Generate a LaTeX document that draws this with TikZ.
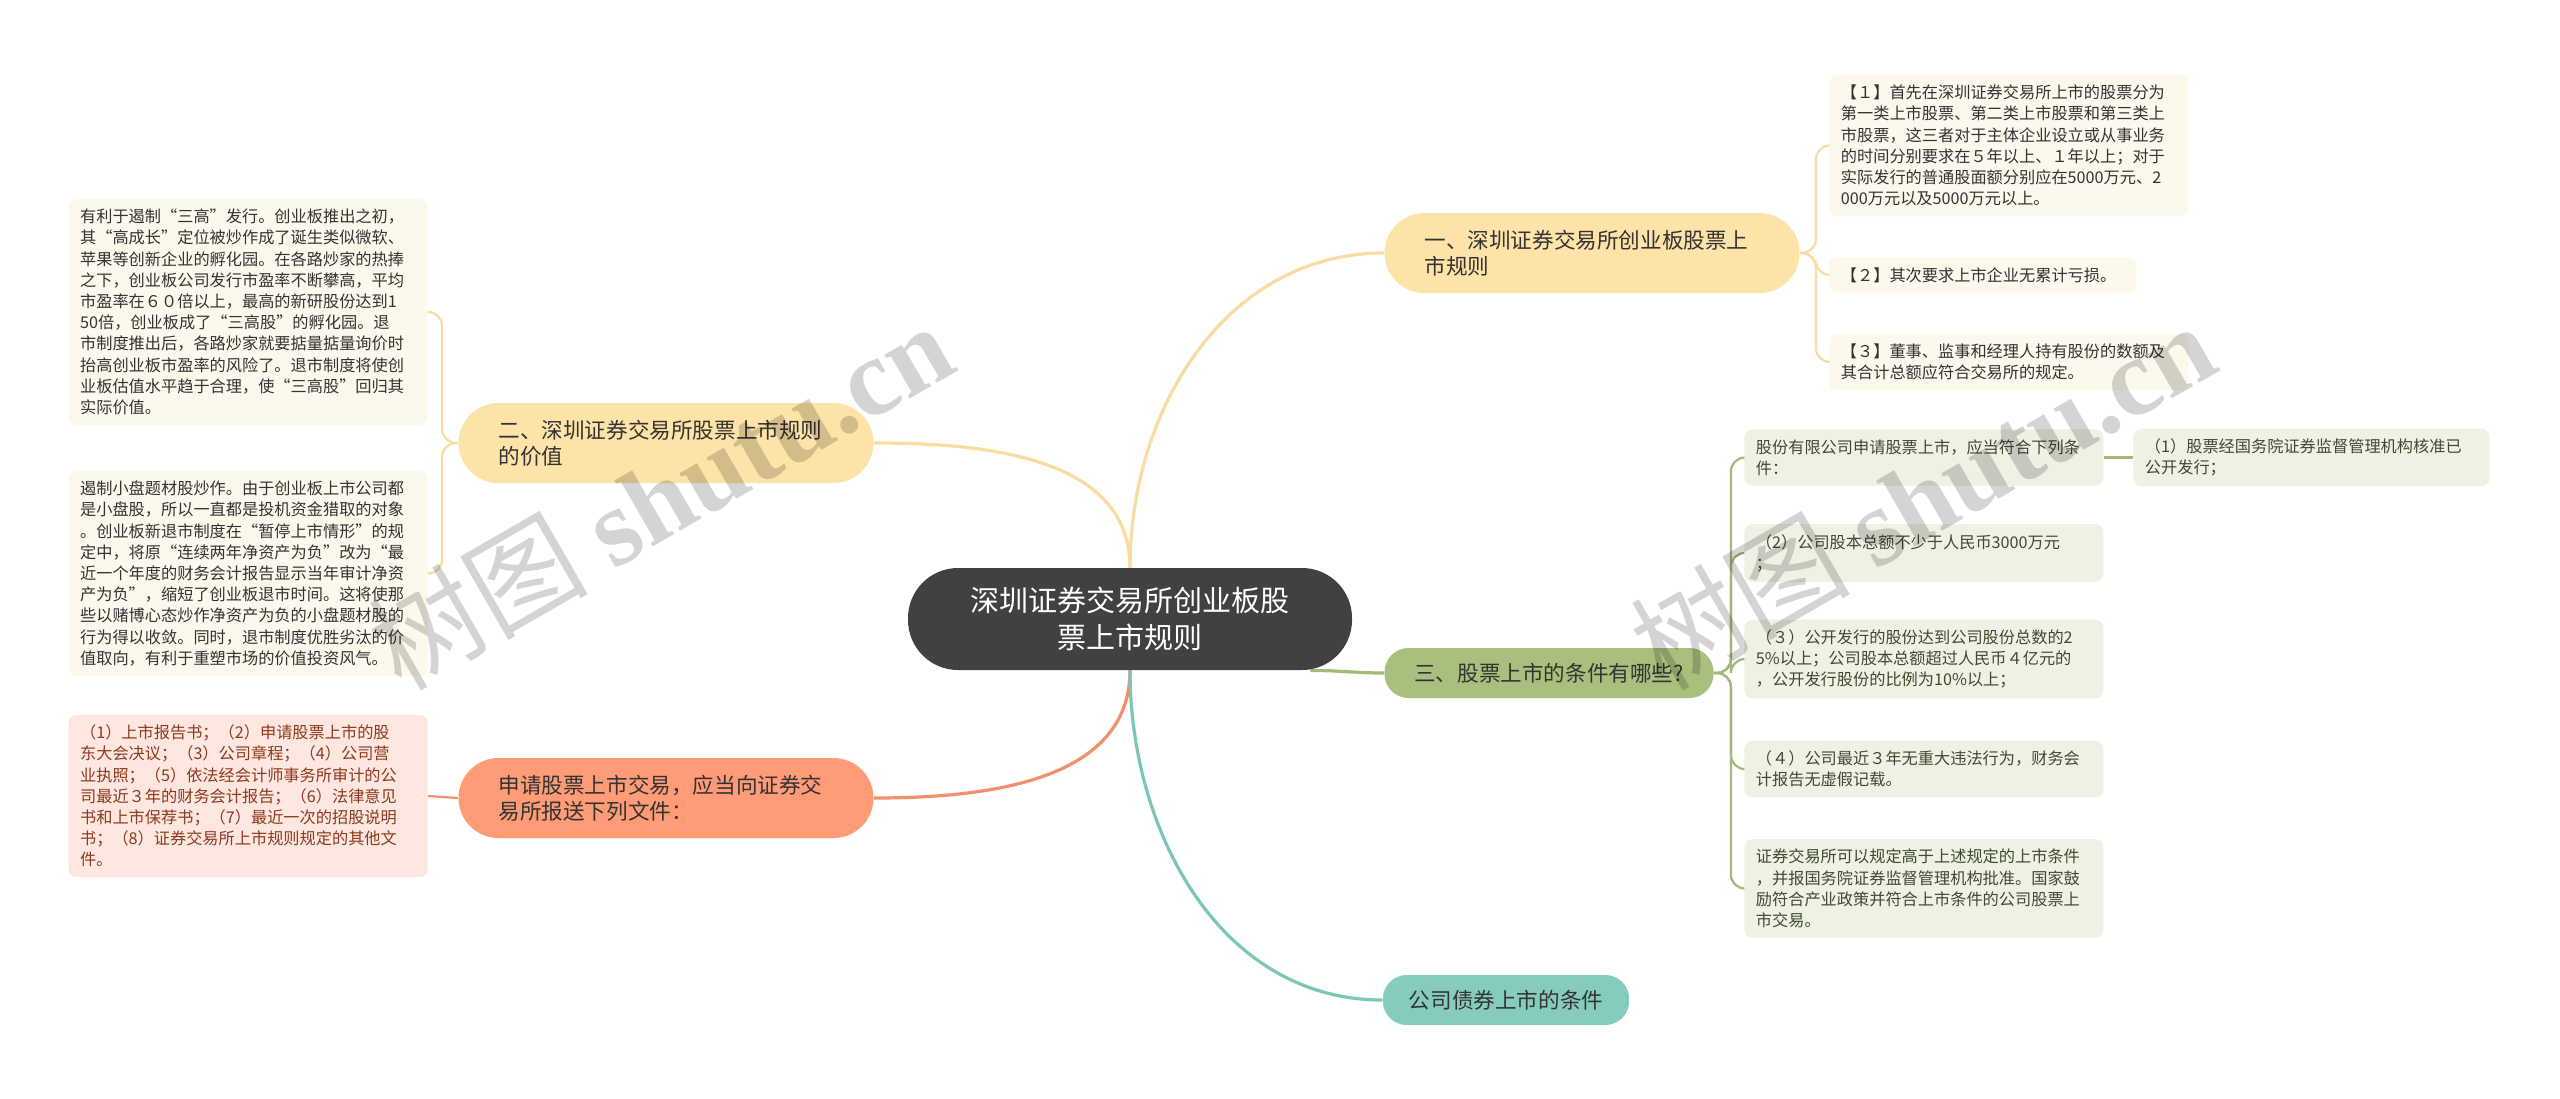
\documentclass[tikz,border=0pt]{standalone}
\usepackage{fontspec}
\setmainfont{Noto Sans CJK SC}
\newfontfamily\markfont{Liberation Serif}
\usepackage{xcolor}
\usepackage{tikz}
\usetikzlibrary{backgrounds}

\definecolor{rootgray}{HTML}{414141}
\definecolor{textgray}{HTML}{333333}
\definecolor{topicyellow}{HTML}{FDE3A7}
\definecolor{topicsalmon}{HTML}{FF9B76}
\definecolor{topicgreen}{HTML}{A8BF7D}
\definecolor{topicteal}{HTML}{85CCBF}
\definecolor{lineyellow}{HTML}{F8DCA2}
\definecolor{linesalmon}{HTML}{F28F6C}
\definecolor{linegreen}{HTML}{A2B977}
\definecolor{lineteal}{HTML}{7CC6B8}
\definecolor{leafcream}{HTML}{FDF8EC}
\definecolor{leafgreen}{HTML}{EEF1E4}
\definecolor{leafpink}{HTML}{FDE7E0}
\definecolor{textolive}{HTML}{3F4A2E}
\definecolor{textbrown}{HTML}{8E3A1E}

\begin{document}
\begin{tikzpicture}[
    x=0.5pt, y=-0.5pt,
    rootnode/.style={rounded corners=25pt, fill=rootgray, text=white,
                     minimum width=222pt, minimum height=51pt, align=center,
                     font=\fontsize{14.5}{18.3}\selectfont},
    topicnode/.style={rounded corners=20pt, minimum height=40pt,
                      text width=167.5pt, inner xsep=20pt, align=left,
                      text=textgray, font=\fontsize{10.8}{13}\selectfont},
    pillnode/.style={rounded corners=12pt, minimum height=25pt,
                     inner xsep=13pt, text=textgray,
                     font=\fontsize{10.8}{13}\selectfont},
    leafnode/.style={rounded corners=4pt, text width=168pt, inner xsep=5.75pt,
                     inner ysep=5pt, align=left, fill=leafcream, text=textgray,
                     font=\fontsize{8.1}{10.6}\selectfont},
    greenleaf/.style={leafnode, fill=leafgreen, text=textolive},
    pinkleaf/.style={leafnode, fill=leafpink, text=textbrown},
    branchline/.style={line width=1.6pt},
    twigline/.style={line width=1.1pt, rounded corners=7pt},
    watermark/.style={text=black, text opacity=0.17,
                      font=\fontsize{55}{55}\selectfont},
  ]

  \useasboundingbox (0,0) rectangle (2560,1098);

  % Centre
  \node[rootnode] at (1130, 619) (root)
    {深圳证券交易所创业板股\\票上市规则};

  % Main topics
  \node[topicnode, fill=topicyellow] at (1592, 253) (rules)
    {一、深圳证券交易所创业板股票上\\市规则};
  \node[topicnode, fill=topicyellow] at (666, 443) (value)
    {二、深圳证券交易所股票上市规则\\的价值};
  \node[topicnode, fill=topicsalmon] at (666, 798) (docs)
    {申请股票上市交易，应当向证券交\\易所报送下列文件：};
  \node[pillnode, fill=topicgreen, minimum width=164.5pt] at (1549, 673) (cond)
    {三、股票上市的条件有哪些?};
  \node[pillnode, fill=topicteal, minimum width=121.5pt] at (1506, 1000) (bond)
    {公司债券上市的条件};

  % Leaves of rules
  \node[leafnode, anchor=west] at (1829, 145.5) (r1)
    {【１】首先在深圳证券交易所上市的股票分为\\第一类上市股票、第二类上市股票和第三类上\\市股票，这三者对于主体企业设立或从事业务\\的时间分别要求在５年以上、１年以上；对于\\实际发行的普通股面额分别应在5000万元、2\\000万元以及5000万元以上。};
  \node[leafnode, anchor=west, text width=142pt] at (1829, 275) (r2)
    {【２】其次要求上市企业无累计亏损。};
  \node[leafnode, anchor=west] at (1829, 362) (r3)
    {【３】董事、监事和经理人持有股份的数额及\\其合计总额应符合交易所的规定。};

  % Leaves of value
  \node[leafnode, anchor=east] at (428, 312) (l1)
    {有利于遏制“三高”发行。创业板推出之初，\\其“高成长”定位被炒作成了诞生类似微软、\\苹果等创新企业的孵化园。在各路炒家的热捧\\之下，创业板公司发行市盈率不断攀高，平均\\市盈率在６０倍以上，最高的新研股份达到1\\50倍，创业板成了“三高股”的孵化园。退\\市制度推出后，各路炒家就要掂量掂量询价时\\抬高创业板市盈率的风险了。退市制度将使创\\业板估值水平趋于合理，使“三高股”回归其\\实际价值。};
  \node[leafnode, anchor=east] at (428, 573.5) (l2)
    {遏制小盘题材股炒作。由于创业板上市公司都\\是小盘股，所以一直都是投机资金猎取的对象\\。创业板新退市制度在“暂停上市情形”的规\\定中，将原“连续两年净资产为负”改为“最\\近一个年度的财务会计报告显示当年审计净资\\产为负”，缩短了创业板退市时间。这将使那\\些以赌博心态炒作净资产为负的小盘题材股的\\行为得以收敛。同时，退市制度优胜劣汰的价\\值取向，有利于重塑市场的价值投资风气。};

  % Leaf of docs
  \node[pinkleaf, anchor=east] at (428, 796) (l3)
    {（1）上市报告书；（2）申请股票上市的股\\东大会决议；（3）公司章程；（4）公司营\\业执照；（5）依法经会计师事务所审计的公\\司最近３年的财务会计报告；（6）法律意见\\书和上市保荐书；（7）最近一次的招股说明\\书；（8）证券交易所上市规则规定的其他文\\件。};

  % Leaves of cond
  \node[greenleaf, anchor=west] at (1744, 457.5) (g0)
    {股份有限公司申请股票上市，应当符合下列条\\件：};
  \node[greenleaf, anchor=west, text width=166.5pt] at (2133, 457.5) (g1)
    {（1）股票经国务院证券监督管理机构核准已\\公开发行；};
  \node[greenleaf, anchor=west] at (1744, 553) (g2)
    {（2）公司股本总额不少于人民币3000万元\\；};
  \node[greenleaf, anchor=west] at (1744, 659) (g3)
    {（３）公开发行的股份达到公司股份总数的2\\5\%以上；公司股本总额超过人民币４亿元的\\，公开发行股份的比例为10\%以上；};
  \node[greenleaf, anchor=west] at (1744, 769) (g4)
    {（４）公司最近３年无重大违法行为，财务会\\计报告无虚假记载。};
  \node[greenleaf, anchor=west] at (1744, 888.5) (g5)
    {证券交易所可以规定高于上述规定的上市条件\\，并报国务院证券监督管理机构批准。国家鼓\\励符合产业政策并符合上市条件的公司股票上\\市交易。};

  % Lines
  \begin{pgfonlayer}{background}
    \fill[white] (0,0) rectangle (2560,1098);
    \draw[branchline, lineyellow] (root.north) to[out=90, in=180] (rules.west);
    \draw[branchline, lineyellow] (root.north) to[out=90, in=0] (value.east);
    \draw[branchline, linesalmon] (root.south) to[out=-90, in=0] (docs.east);
    \draw[branchline, lineteal] (root.south) to[out=-90, in=180] (bond.west);
    \draw[branchline, linegreen] ([xshift=-21pt]root.south east)
      to[out=0, in=180] (cond.west);

    \foreach \leaf in {r1, r2, r3}
      \draw[twigline, lineyellow] (rules.east) -- ++(8pt,0) |- (\leaf.west);
    \foreach \leaf in {l1, l2}
      \draw[twigline, lineyellow] (value.west) -- ++(-8pt,0) |- (\leaf.east);
    \draw[twigline, linesalmon] (docs.west) -- (l3.east);
    \foreach \leaf in {g0, g2, g3, g4, g5}
      \draw[twigline, linegreen] (cond.east) -- ++(8.5pt,0) |- (\leaf.west);
    \draw[twigline, linegreen] (g0.east) -- (g1.west);
  \end{pgfonlayer}

  % Watermarks
  \node[watermark, rotate=30] at (660, 495) (markleft)
    {树图~{\markfont\bfseries shutu.cn}};
  \node[watermark, rotate=30] at (1922, 495) (markright)
    {树图~{\markfont\bfseries shutu.cn}};

\end{tikzpicture}
\end{document}
